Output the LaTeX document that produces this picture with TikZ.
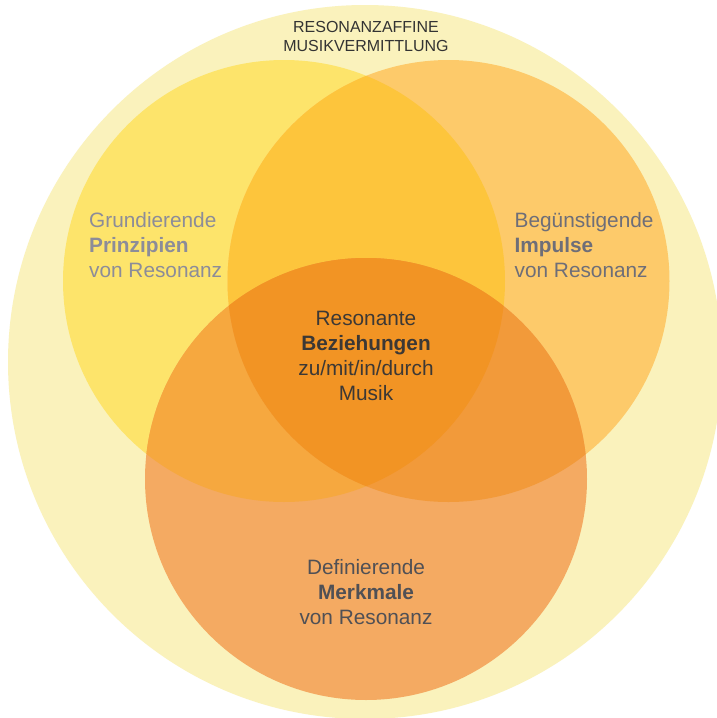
\documentclass[tikz,border=0pt]{standalone}
\usepackage{fontspec}
\setmainfont{Liberation Sans}
\definecolor{outerc}{HTML}{FAF2BC}
\definecolor{yelc}{HTML}{FDE46B}
\definecolor{rorc}{HTML}{FDCA6A}
\definecolor{botc}{HTML}{F4AA62}
\definecolor{lrc}{HTML}{FDC53C}
\definecolor{lbc}{HTML}{F6A83F}
\definecolor{rbc}{HTML}{F29A3A}
\definecolor{cenc}{HTML}{F29424}
\definecolor{txleft}{HTML}{8C8C99}
\definecolor{txright}{HTML}{6E6E78}
\definecolor{txcen}{HTML}{3C3835}
\definecolor{txbot}{HTML}{505055}
\definecolor{txtitle}{HTML}{333333}
\tikzset{
  lbl/.style={inner sep=0pt, font=\fontsize{20.8}{25}\selectfont},
  ttl/.style={inner sep=0pt, align=center, font=\fontsize{16}{18.5}\selectfont, text=txtitle}
}
\begin{document}
\begin{tikzpicture}[x=1pt,y=-1pt]
\useasboundingbox (0,0) rectangle (717,718);
\clip (0,0) rectangle (717,718);
\fill[white] (0,0) rectangle (717,718);
\fill[outerc] (365,362) circle (357);
\def\cL{(284,281) circle (221)}
\def\cR{(448.5,281) circle (221)}
\def\cB{(366,479) circle (221)}
\fill[yelc] \cL;
\fill[rorc] \cR;
\fill[botc] \cB;
\begin{scope}
  \clip \cL;
  \fill[lrc] \cR;
  \fill[lbc] \cB;
\end{scope}
\begin{scope}
  \clip \cR;
  \fill[rbc] \cB;
\end{scope}
\begin{scope}
  \clip \cL;
  \clip \cR;
  \fill[cenc] \cB;
\end{scope}
\node[ttl] (title) at (366,36.5) {RESONANZAFFINE\\MUSIKVERMITTLUNG};
\node[lbl, align=left, anchor=west, text=txleft] (left) at (89,245)
  {Grundierende\\\textbf{Prinzipien}\\von Resonanz};
\node[lbl, align=left, anchor=west, text=txright] (right) at (514.5,245)
  {Begünstigende\\\textbf{Impulse}\\von Resonanz};
\node[lbl, align=center, text=txcen] (center) at (366,356)
  {Resonante\\\textbf{Beziehungen}\\zu/mit/in/durch\\Musik};
\node[lbl, align=center, text=txbot] (bottom) at (366,592.5)
  {Definierende\\\textbf{Merkmale}\\von Resonanz};
\end{tikzpicture}
\end{document}
